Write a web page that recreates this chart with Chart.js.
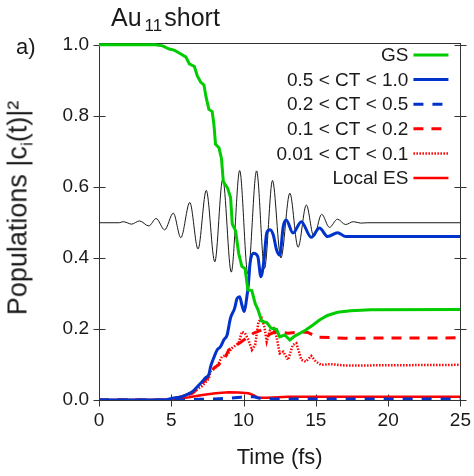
<!DOCTYPE html>
<html><head><meta charset="utf-8">
<script src="https://cdn.jsdelivr.net/npm/chart.js@4.4.1/dist/chart.umd.min.js"></script>
<style>
html,body{margin:0;padding:0;background:#fff;}
#wrap{position:relative;width:474px;height:476px;font-family:"Liberation Sans",Arial,sans-serif;color:#1a1a1a;overflow:hidden;}
#c{position:absolute;left:0;top:0;}
.t{position:absolute;white-space:nowrap;line-height:1;}
</style></head><body>
<div id="wrap">
<canvas id="c" width="474" height="476"></canvas>
<div class="t" style="left:111px;top:5px;font-size:25px;">Au<span style="font-size:17px;position:relative;top:5px;margin:0 2px 0 3px;">11</span>short</div>
<div class="t" style="left:16px;top:36px;font-size:22px;">a)</div>
<div class="t" style="left:18px;top:208px;font-size:27px;transform:translate(-50%,-50%) rotate(-90deg);">Populations |c<span style="font-size:17px;position:relative;top:6px;">i</span>(t)|²</div>
</div>
<script>
// ---- data (time in fs, populations) ----
const xTicks = [0, 5, 10, 15, 20, 25];
const yTicks = [0, 0.2, 0.4, 0.6, 0.8, 1.0];

const pulseT = [0, 1.4, 1.67, 1.95, 2.24, 2.8, 3.45, 3.95, 4.54, 5.14, 5.66, 6.28, 6.85, 7.42, 8.01, 8.56, 9.15, 9.73, 10.3, 10.9, 11.45, 12.0, 12.58, 13.2, 13.77, 14.34, 14.86, 15.4, 15.94, 16.5, 17.05, 17.6, 18.1, 18.6, 25];
const pulseV = [0.499, 0.499, 0.502, 0.499, 0.495, 0.504, 0.49, 0.511, 0.479, 0.526, 0.457, 0.556, 0.425, 0.59, 0.389, 0.622, 0.36, 0.646, 0.355, 0.645, 0.37, 0.618, 0.40, 0.582, 0.43, 0.549, 0.46, 0.523, 0.486, 0.509, 0.494, 0.502, 0.498, 0.499, 0.499];

const gsT = [0, 3.9, 4.4, 4.86, 5.2, 5.55, 6.0, 6.25, 6.6, 6.8, 7.03, 7.26, 7.4, 7.6, 7.83, 7.95, 8.06, 8.3, 8.47, 8.6, 8.9, 9.1, 9.22, 9.45, 9.66, 9.88, 10.1, 10.3, 10.57, 10.8, 11.0, 11.25, 11.6, 11.9, 12.28, 12.5, 12.85, 13.2, 13.54, 13.9, 14.3, 14.8, 15.25, 15.8, 16.5, 17.4, 18.8, 25];
const gsV = [1.0, 1.0, 0.997, 0.988, 0.985, 0.977, 0.966, 0.946, 0.939, 0.912, 0.895, 0.887, 0.854, 0.818, 0.812, 0.775, 0.72, 0.71, 0.68, 0.615, 0.596, 0.57, 0.495, 0.476, 0.413, 0.376, 0.37, 0.31, 0.308, 0.272, 0.254, 0.222, 0.218, 0.202, 0.199, 0.178, 0.183, 0.169, 0.18, 0.188, 0.197, 0.211, 0.225, 0.238, 0.247, 0.251, 0.254, 0.255];

const ct1T = [0, 4.5, 5.1, 5.6, 6.0, 6.4, 6.7, 7.03, 7.38, 7.6, 7.72, 7.95, 8.17, 8.4, 8.63, 8.86, 9.09, 9.38, 9.55, 9.73, 9.88, 10.05, 10.2, 10.34, 10.45, 10.68, 10.98, 11.2, 11.4, 11.6, 11.83, 12.05, 12.28, 12.5, 12.75, 12.95, 13.42, 13.99, 14.68, 15.25, 15.82, 16.5, 17.07, 25];
const ct1V = [0, 0, 0.005, 0.008, 0.014, 0.022, 0.033, 0.047, 0.063, 0.072, 0.094, 0.12, 0.141, 0.15, 0.169, 0.183, 0.23, 0.258, 0.286, 0.291, 0.268, 0.249, 0.282, 0.329, 0.385, 0.413, 0.404, 0.347, 0.39, 0.47, 0.479, 0.465, 0.423, 0.408, 0.49, 0.507, 0.47, 0.502, 0.458, 0.484, 0.46, 0.471, 0.46, 0.46];

const ct2T = [0, 6, 7, 8, 9, 9.8, 10.3, 10.7, 11.2, 12, 25];
const ct2V = [0, 0, 0.002, 0.003, 0.005, 0.008, 0.01, 0.009, 0.004, 0.003, 0.003];

const ct3T = [0, 4.5, 5.2, 6.0, 6.5, 7.0, 7.26, 7.72, 7.95, 8.3, 8.5, 8.75, 8.97, 9.3, 9.7, 10.2, 10.68, 11.25, 11.7, 12.17, 13.08, 14.0, 14.45, 15.1, 17, 25];
const ct3V = [0, 0, 0.004, 0.012, 0.02, 0.04, 0.052, 0.07, 0.09, 0.1, 0.113, 0.122, 0.141, 0.15, 0.16, 0.174, 0.188, 0.197, 0.183, 0.192, 0.188, 0.192, 0.19, 0.177, 0.174, 0.175];

const ct4T = [0, 4.5, 5.3, 6.0, 6.6, 7.15, 7.6, 7.72, 8.17, 8.5, 8.86, 9.2, 9.66, 9.88, 10.1, 10.34, 10.57, 10.8, 11.03, 11.25, 11.44, 11.6, 11.83, 12.05, 12.28, 12.5, 12.74, 13.08, 13.4, 13.65, 14.0, 14.3, 14.68, 15.0, 15.36, 16.05, 17, 25];
const ct4V = [0, 0, 0.005, 0.014, 0.025, 0.04, 0.06, 0.08, 0.095, 0.122, 0.127, 0.146, 0.16, 0.192, 0.188, 0.169, 0.141, 0.155, 0.22, 0.23, 0.206, 0.164, 0.197, 0.206, 0.178, 0.131, 0.136, 0.113, 0.155, 0.16, 0.113, 0.108, 0.124, 0.108, 0.099, 0.101, 0.097, 0.099];

const esT = [0, 4.8, 5.5, 6.23, 7.15, 8.06, 8.97, 9.66, 10.34, 10.68, 11.03, 11.7, 13.08, 25];
const esV = [0, 0, 0.004, 0.008, 0.014, 0.019, 0.022, 0.021, 0.019, 0.014, 0.006, 0.006, 0.009, 0.009];

const pts = (t, v) => t.map((x, i) => ({x: x, y: v[i]}));

const GREEN = 'rgb(0,204,0)', BLUE = 'rgb(0,51,204)', RED = 'rgb(255,0,0)';
const FONT = '"Liberation Sans", Arial, sans-serif';
Chart.defaults.font.family = FONT;
Chart.defaults.color = '#1a1a1a';

const datasets = [
  {label: 'GS', data: pts(gsT, gsV), borderColor: GREEN, borderWidth: 3, order: 1},
  {label: '0.5 < CT < 1.0', data: pts(ct1T, ct1V), borderColor: BLUE, borderWidth: 3, cubicInterpolationMode: 'monotone', order: 2},
  {label: '0.2 < CT < 0.5', data: pts(ct2T, ct2V), borderColor: BLUE, borderWidth: 3, borderDash: [10, 9], order: 3},
  {label: '0.1 < CT < 0.2', data: pts(ct3T, ct3V), borderColor: RED, borderWidth: 3, borderDash: [10, 8], order: 4},
  {label: '0.01 < CT < 0.1', data: pts(ct4T, ct4V), borderColor: RED, borderWidth: 2.5, borderDash: [1.5, 1.5], order: 5},
  {label: 'Local ES', data: pts(esT, esV), borderColor: RED, borderWidth: 2.5, order: 6},
  {label: 'pulse', data: pts(pulseT, pulseV), borderColor: '#1a1a1a', borderWidth: 1, cubicInterpolationMode: 'monotone', order: 10}
];
datasets.forEach(d => { d.pointRadius = 0; d.fill = false; d.tension = d.tension || 0; });

const legendCount = 6;

const framePlugin = {
  id: 'frame',
  beforeDatasetsDraw(chart) {
    const {ctx, chartArea: a, scales: {x, y}} = chart;
    ctx.save();
    ctx.strokeStyle = '#333';
    ctx.lineWidth = 1;
    const L = Math.round(a.left) + 0.5, R = Math.round(a.right) + 0.5;
    const T = Math.round(a.top) + 0.5, B = Math.round(a.bottom) + 0.5;
    ctx.strokeRect(L, T, R - L, B - T);
    ctx.beginPath();
    yTicks.forEach(v => {
      const p = Math.round(y.getPixelForValue(v)) + 0.5;
      ctx.moveTo(L - 6, p); ctx.lineTo(L + 6, p);
      ctx.moveTo(R - 6, p); ctx.lineTo(R + 6, p);
    });
    xTicks.forEach(v => {
      const p = Math.round(x.getPixelForValue(v)) + 0.5;
      ctx.moveTo(p, B - 6); ctx.lineTo(p, B + 6);
    });
    ctx.stroke();
    ctx.restore();
  }
};

const legendPlugin = {
  id: 'rlegend',
  afterDraw(chart) {
    const {ctx, chartArea: a} = chart;
    ctx.save();
    ctx.font = '19px ' + FONT;
    ctx.textAlign = 'right';
    ctx.textBaseline = 'middle';
    for (let i = 0; i < legendCount; i++) {
      const ds = chart.data.datasets[i];
      const yy = a.top + 12 + i * 24.6;
      const xr = a.right - 12;
      ctx.fillStyle = '#1a1a1a';
      ctx.fillText(ds.label, xr - 40, yy + 1);
      ctx.strokeStyle = ds.borderColor;
      ctx.lineWidth = ds.borderWidth;
      ctx.setLineDash(ds.borderDash || []);
      ctx.beginPath();
      ctx.moveTo(xr - 35, yy); ctx.lineTo(xr, yy);
      ctx.stroke();
    }
    ctx.restore();
  }
};

new Chart(document.getElementById('c'), {
  type: 'line',
  data: {datasets: datasets},
  options: {
    responsive: false, animation: false, devicePixelRatio: 1,
    layout: {padding: {left: 0, right: 10, top: 43, bottom: 0}},
    plugins: {legend: {display: false}, tooltip: {enabled: false}},
    scales: {
      x: {
        type: 'linear', min: 0, max: 25,
        afterBuildTicks: s => { s.ticks = xTicks.map(v => ({value: v})); },
        afterFit: s => { s.height = 76; },
        grid: {display: true, drawOnChartArea: false, color: 'rgba(0,0,0,0)', tickLength: 6},
        border: {display: false},
        ticks: {font: {size: 19}, padding: 3, maxRotation: 0, autoSkip: false, color: '#1a1a1a'},
        title: {display: true, text: 'Time (fs)', font: {size: 22}, padding: {top: 4, bottom: 5}, color: '#1a1a1a'}
      },
      y: {
        type: 'linear', min: 0, max: 1.005,
        afterBuildTicks: s => { s.ticks = yTicks.map(v => ({value: v})); },
        afterFit: s => { s.width = 99; },
        grid: {display: true, drawOnChartArea: false, color: 'rgba(0,0,0,0)', tickLength: 6},
        border: {display: false},
        ticks: {font: {size: 19}, padding: 4, color: '#1a1a1a', callback: v => Number(v).toFixed(1)}
      }
    }
  },
  plugins: [framePlugin, legendPlugin]
});
</script>
</body></html>
